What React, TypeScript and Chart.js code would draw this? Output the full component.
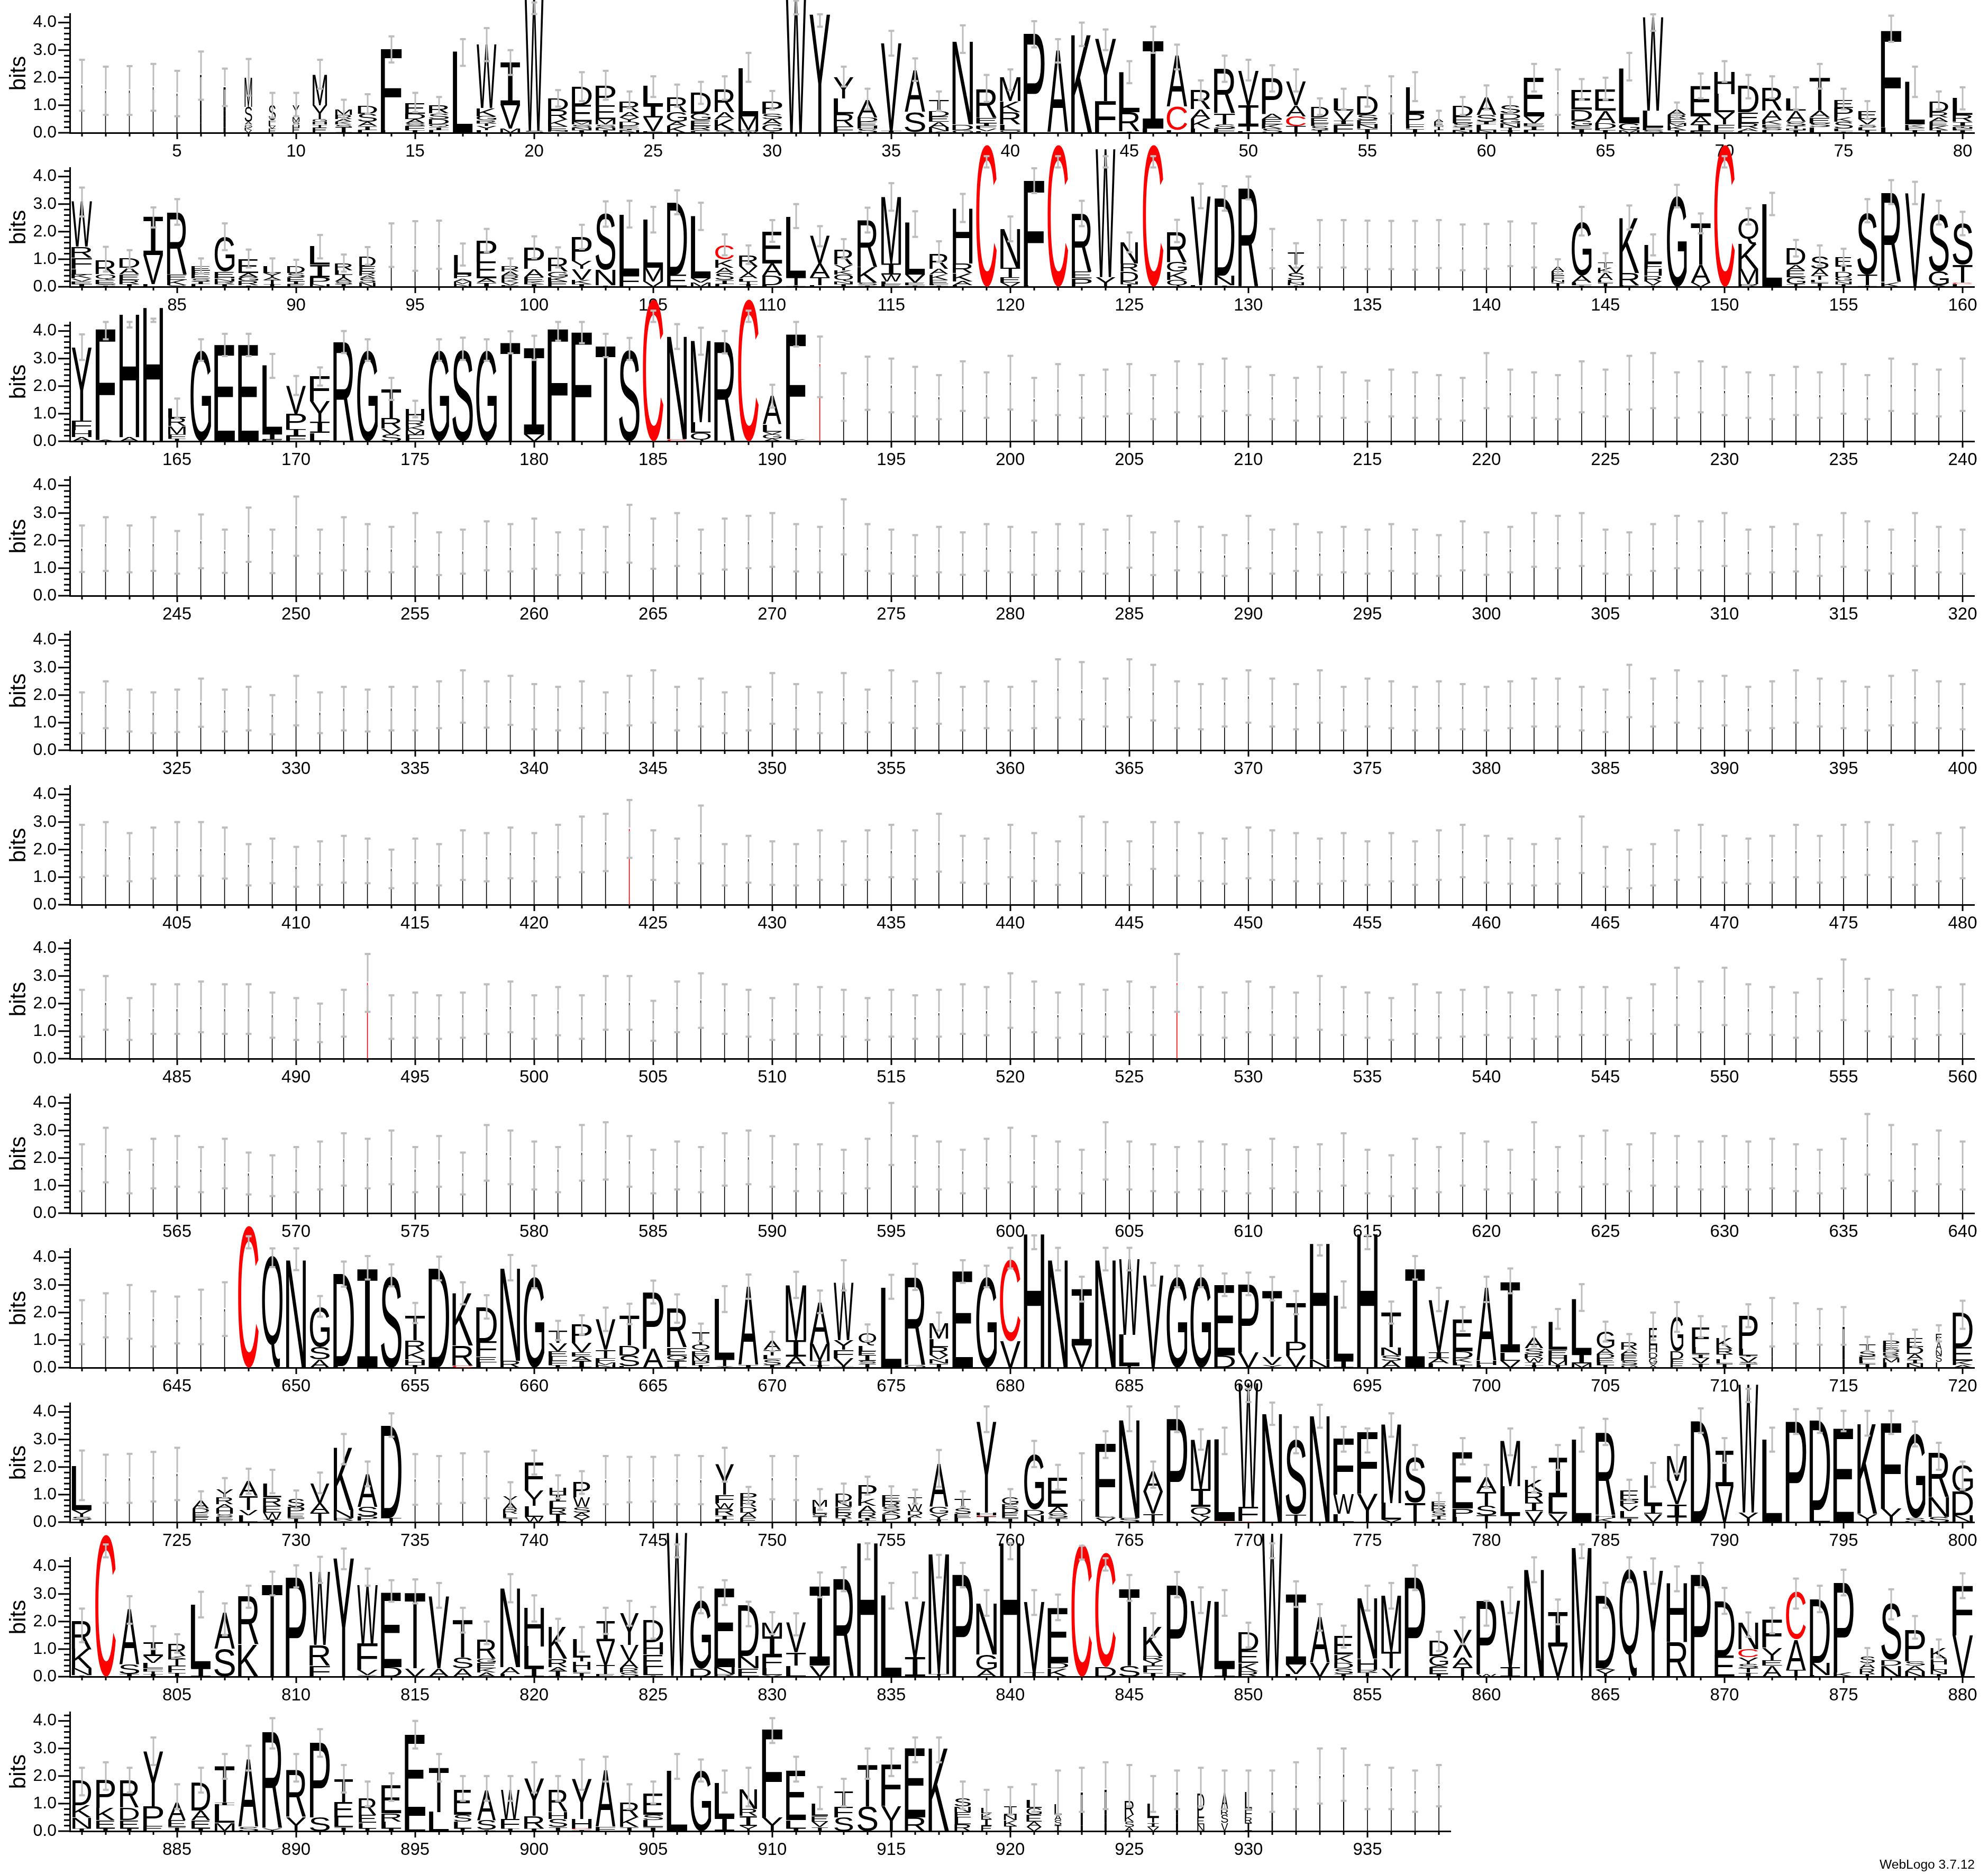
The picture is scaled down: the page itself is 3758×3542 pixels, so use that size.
import React, { useEffect, useRef } from "react";
import { Chart, registerables } from "chart.js";

Chart.register(...registerables);

// Each column: "low high weight stack" (bits x 100, weight in %, stack bottom to top)
const row1Columns = ["80 265 4 L172","65 240 4 L152","65 242 4 L153","80 250 4 L165","60 225 4 L142","120 295 10 R35 A30 I145","97 233 15 W20 R20 P20 G20 M85","135 268 32 V10 K10 G10 A10 S55 M105","55 145 30 E15 V10 L10 F10 S55","60 145 30 E20 H10 S10 M15 A10 Y35","160 265 62 E20 T10 H10 G10 Y50 M110","55 120 72 I20 S10 K10 A10 R15 M20","70 140 82 L10 I15 A15 S30 D30","255 350 90 L10 F295","75 145 85 I10 F15 S10 A15 D20 E40","70 130 85 L10 I10 Q10 D20 S20 R30","243 340 85 L295","260 380 85 L10 Y15 T10 R10 G15 K30 W230","210 300 85 M15 V85 I155","431 473 82 S7 W490","95 155 85 I3 N5 E15 K25 R35 D42","115 220 85 I10 N10 S10 M10 E60 D65","120 225 85 I10 N10 S10 M20 E50 P70","90 150 85 N10 I5 E10 D15 Y15 A20 R40","130 205 85 F5 V50 I45 L70","95 175 85 K25 A15 G35 R55","105 185 85 L5 S5 R15 E20 G25 D75","120 205 85 S10 K40 A25 R85","185 290 85 W5 N5 M50 L175","85 152 85 I5 G25 A20 S20 P45","430 480 88 W500","385 430 88 Y430","168 240 85 F22 R48 L55 Y75","85 160 85 S15 H10 E15 D15 A65","280 370 88 I8 V317","188 270 88 L3 S72 A152","80 150 85 K5 N15 A20 E20 D20 T40","290 390 88 G10 D20 N300","112 210 88 L5 V10 F10 I10 E20 R105","155 230 88 Q10 L20 R45 K40 M85","310 405 90 L2 P358","255 340 90 L2 A298","315 400 90 K355","300 375 90 F115 Y225","180 260 88 I5 R70 L145","290 385 90 L15 I320","230 320 88 L10 C85 A185","120 190 85 L15 K35 A35 R70","185 280 90 F15 S15 T40 R160","190 265 88 L5 T20 I75 V125","150 245 88 S15 K15 E20 A20 P130","150 230 85 T25 C35 A40 V85","65 125 75 I10 S15 F10 E20 D40","85 160 85 F30 I15 V35 L45","95 170 88 I15 N15 E15 S20 D65","70 205 10 S30 R20 K20 A67","115 220 78 I15 F15 P40 L95","25 80 40 L10 I15 E15 A10","65 130 85 N10 I10 S15 E25 D40","85 172 85 N10 L20 I10 S25 A65","75 130 85 I10 T10 N15 G15 D20 S30","150 250 88 L10 I15 E10 V25 E140","65 230 4 L148","120 195 88 I15 E10 G20 D40 E70","120 200 88 I10 L5 D20 A45 E75","190 290 88 M10 G25 L200","370 430 88 S10 E10 L60 W340","55 110 80 I10 K15 M10 E15 R15 A20","125 215 88 F5 I25 A30 E110","185 260 88 E10 F20 Y45 L65 H80","125 210 88 L5 A10 R20 E40 D95","125 205 85 L10 S10 E10 K15 A35 R85","85 165 85 I10 N5 T10 S15 A40 L45","160 250 88 L20 S15 E20 A25 T120","85 160 80 I5 L10 S25 K15 P35 E30","50 115 78 I10 L10 S10 V20 E30","330 425 88 L20 F350","130 240 85 I10 F10 K10 L155","85 150 80 I10 K15 E15 A15 R20 D40","85 165 85 I10 F5 N5 Y5 I15 R25 L60"];

const row2Columns = ["255 360 88 I10 E10 V10 K15 L20 F40 R40 W165","55 145 85 I5 S5 E15 Q20 R50","67 133 85 I10 R15 E20 A25 D35","215 288 85 L10 V105 I140","225 318 85 S5 K20 E20 R225","48 103 80 L10 I10 S10 E15 F15 E15","133 230 85 I10 R10 N10 H5 E20 G125","70 135 85 I5 R15 G15 A15 E50","50 103 75 I10 T15 A10 Y15 L25","43 98 75 E10 I10 E15 S15 D25","103 188 85 N10 P25 I45 L65","55 117 75 I10 S10 A15 T10 L15 R25","80 144 70 N15 S15 A10 R15 E20 D35","72 230 4 L150","58 238 4 L148","65 240 4 L152","77 157 75 N10 M10 A10 P15 L70","126 210 85 I15 A15 E60 P77","45 103 75 F5 V10 K10 R15 A15 R20","103 183 85 I10 K10 E15 A30 P75","70 143 85 E20 K15 G20 R50","137 225 85 I10 K15 V40 Y30 P85","218 310 85 I5 N55 S205","215 312 85 F42 L218","197 290 85 V20 M50 L175","263 350 85 E45 D260","206 305 85 M15 V15 L225","114 190 80 L10 I15 S25 A20 K30 C50","83 150 80 I10 T10 L10 A20 V25 R40","163 242 85 L5 D35 A45 E115","213 300 85 I5 T30 L220","147 220 85 L5 T30 A50 V100","103 173 80 I10 N10 Q25 K15 Y20 R55","197 287 85 I5 S10 K55 R170","276 376 85 E10 L10 W25 I40 M240","181 274 85 I5 E10 V30 L190","90 165 80 I5 L5 E15 K20 A20 R55","235 337 85 L5 A15 K30 R35 H200","433 474 88 C515","165 255 85 V15 E20 T35 N140","340 430 88 L5 F380","433 474 88 C515","220 312 85 P30 E25 R210","433 474 85 Y35 W465","125 197 75 I10 N10 D35 R30 N75","433 474 88 C515","162 243 85 Q25 K30 G35 R110","285 374 85 L5 V322","276 365 85 I5 N35 D280","317 400 85 R357","67 210 4 L138","69 158 70 I5 N10 L10 S25 V30 T45","70 242 4 L156","70 242 4 L156","64 240 4 L152","64 239 4 L151","62 239 4 L150","68 242 4 L155","60 226 4 L143","65 228 4 L146","75 237 4 L156","70 230 4 L150","45 100 55 I15 N10 F15 E15 A17","186 290 85 I5 L10 A25 G195","55 122 65 I15 L10 A25 K20 T20","208 295 85 F5 R45 K200","114 190 75 I5 V15 R20 H25 F20 L65","288 370 85 G330","194 266 85 V15 A65 T150","433 474 88 C515","226 285 85 R10 M55 K90 Q95","260 341 85 L300","110 170 80 T10 G25 E25 A20 D58","77 150 75 I15 L10 T15 A25 S45","77 138 70 I10 N10 G15 D20 T20 E32","234 318 85 I5 T40 S225","300 387 85 K15 R325","300 381 85 V340","226 312 85 A5 G50 S210","187 272 85 L10 C5 T65 S150"];

const row3Columns = ["295 388 85 A15 H25 F35 Y265","370 433 85 A5 F402","413 433 85 A15 H445","433 445 85 H485","83 155 75 I10 F15 M30 R30 L35","292 370 88 G330","309 390 88 E350","309 390 88 E350","230 317 85 F5 I20 L250","168 237 85 F20 I25 P55 V100","202 268 85 L30 I40 Y75 F90","320 400 88 R360","292 370 88 G330","150 230 85 S25 V20 R40 T105","87 147 80 F25 M15 K15 R20 H42","292 370 88 G330","295 376 88 S335","292 370 88 G330","319 399 85 T360","295 383 88 V25 I315","365 433 88 L3 F404","356 433 88 F395","305 390 85 T347","295 375 88 S335","433 474 88 C515","335 425 85 C8 N372","314 412 85 Q30 L40 M295","319 400 88 R360","433 474 88 C515","122 205 80 A10 G15 V10 L25 A105","344 433 85 Y8 F380","160 380 3 C280","74 247 4 L160","114 307 4 L210","105 300 4 L202"];
const row3TailHigh = [270,240,290,250,310,230,280,240,260,280,240,290,280,300,270,240,230,270,250,220,260,250,240,230,320,260,250,240,290,260,310,320,250,290,270,250,240,270,250,280,240,300,280,260,300];
const row3TailLow = [90,80,110,85,115,75,95,85,90,100,80,105,90,110,95,80,75,90,85,70,90,85,80,75,120,90,85,80,105,90,115,120,85,105,95,85,80,95,85,100,80,110,100,90,110];

const row4High = [255,285,255,285,235,295,240,320,240,360,240,285,260,250,300,230,240,270,260,280,230,240,250,330,280,300,240,280,290,300,260,250,350,260,240,220,250,230,260,250,230,260,260,240,290,230,270,250,220,290,240,260,230,250,240,260,240,220,270,230,250,300,290,300,240,230,260,290,270,300,240,250,260,220,300,270,240,300,250,240];
const row4Low = [86,90,85,90,80,100,83,123,82,145,80,92,88,85,105,75,80,92,88,98,75,82,85,120,98,108,80,95,100,105,88,85,150,90,80,72,85,76,90,85,76,90,88,80,102,75,92,85,72,100,80,90,76,85,80,90,80,72,92,76,85,105,100,108,80,76,90,100,92,108,80,85,88,72,105,92,80,108,85,80];
const row5High = [210,250,220,210,220,260,220,230,200,270,210,230,220,230,230,250,290,250,270,240,230,250,210,270,290,230,260,210,230,280,240,210,280,220,290,250,280,230,250,230,250,330,320,260,330,310,250,240,260,290,260,240,290,230,260,250,230,250,240,230,250,260,260,230,220,310,260,290,250,270,230,250,290,260,250,230,270,290,250,240];
const row5Low = [62,80,68,62,66,85,68,72,58,90,62,72,68,72,72,80,100,82,92,76,72,80,62,90,100,72,86,62,72,96,76,62,98,66,100,80,96,72,80,72,80,118,112,86,120,108,80,76,86,100,86,76,100,72,86,80,72,80,76,72,80,86,86,72,66,120,86,100,80,90,72,80,100,86,80,72,90,100,80,76];
const row6High = [290,300,260,280,300,300,280,220,240,210,230,250,240,200,240,220,270,260,280,260,290,320,330,380,270,240,360,220,250,230,220,270,230,270,290,270,330,250,240,290,260,230,320,300,230,300,300,260,240,280,270,260,240,260,230,260,230,270,290,250,240,220,240,320,210,200,220,270,290,250,240,250,290,250,290,300,290,230,260,280];
const row6Low = [100,105,85,95,105,105,95,70,78,65,72,80,78,60,78,70,90,85,96,85,100,118,122,170,90,78,150,70,80,72,70,90,72,90,100,92,120,80,76,100,86,72,115,105,72,130,105,86,76,96,90,85,76,86,72,85,72,90,100,80,76,70,76,115,65,60,70,90,100,80,76,80,100,80,100,108,100,72,85,96];
const row7High = [250,300,220,270,270,280,270,270,240,220,200,250,380,230,240,230,240,270,280,230,260,230,300,300,210,280,310,270,250,220,270,260,250,220,250,230,250,270,260,310,280,240,270,250,280,260,380,260,240,280,260,240,300,260,240,220,270,240,250,260,240,230,250,260,260,220,270,330,280,330,270,260,240,290,360,290,250,230,260,270];
const row7Low = [80,105,68,90,90,96,90,90,76,68,60,80,170,72,76,72,76,90,96,72,85,72,105,105,65,96,112,90,80,68,90,86,80,68,80,72,80,90,85,112,96,76,90,80,96,86,170,86,76,96,86,76,105,86,76,68,90,76,80,86,76,72,80,86,86,68,90,122,96,122,90,86,76,100,140,100,80,72,86,90];
const row8High = [250,310,230,270,280,240,270,220,210,240,260,290,270,300,240,280,220,320,300,260,240,320,330,280,230,260,240,290,300,280,250,250,230,270,400,280,260,230,270,310,280,260,230,330,260,250,240,260,250,230,270,240,250,290,230,210,270,240,290,260,230,330,240,280,300,250,290,280,260,280,260,270,250,230,270,360,320,250,300,260];
const row8Low = [80,112,72,90,96,76,90,68,62,76,86,100,90,105,76,96,68,118,105,86,76,118,122,96,72,86,76,100,105,96,80,80,72,90,175,96,86,72,90,112,96,86,72,122,86,80,76,86,80,72,90,76,80,100,72,62,90,76,100,86,72,122,76,96,105,80,100,96,86,96,86,90,80,72,90,140,118,80,105,86];

const row9Columns = ["85 245 4 L165","110 270 4 L190","105 300 4 L202","77 277 4 L177","88 258 4 L173","85 283 5 L184","115 310 5 L212","433 477 88 C515","365 433 88 Q405","354 433 85 N390","185 260 85 A30 S45 G145","294 385 88 L5 D335","320 405 88 I360","295 375 88 S335","162 235 85 I10 H20 K30 R40 T90","317 403 88 D360","230 310 88 C8 R72 K190","178 263 88 L20 E20 F55 D125","317 409 85 R25 N335","288 370 88 G330","100 170 80 I10 F15 L15 E20 V30 T45","120 190 85 I25 A15 E15 V35 P65","133 218 85 N10 M10 F15 T30 V110","158 232 85 L5 S40 D35 T110","233 316 88 A70 P205","163 266 85 I25 Q20 E28 R140","96 160 75 I10 P15 M20 E15 Q25 T45","202 296 85 X5 T25 L220","250 338 85 I10 A285","60 130 75 I10 S20 L15 T20 A32","253 348 88 L5 A35 I60 M200","198 280 85 I10 T15 M60 A150","280 390 85 T5 V30 F30 Y35 W208","96 157 75 I15 S10 I20 E15 L20 Q45","250 337 88 L290","282 377 88 G10 R320","135 200 80 I15 N15 V15 R30 L30 M55","308 390 88 E350","292 370 88 G330","360 435 88 V95 C295","430 480 88 H485","353 435 85 N390","240 330 88 V80 I205","353 435 88 N390","353 435 88 T5 L115 W275","298 380 88 V335","292 370 88 G330","292 370 88 G330","260 342 88 D45 E255","263 345 88 V55 P245","244 329 85 Y10 V30 T240","194 278 85 V45 P50 T140","407 445 85 N30 H420","218 313 85 I25 L235","430 480 88 H485","160 240 85 A25 S20 N30 T125","320 405 85 I360","205 290 88 L15 A20 I20 V190","133 220 85 I10 L10 K15 D25 E115","238 330 85 L10 H15 A265","270 360 85 V25 L30 I255","77 147 80 I10 T10 W15 R15 S20 A40","141 213 80 I10 M15 H20 E20 L100","206 303 85 M15 I35 L200","95 167 75 I10 L10 E15 D15 A20 G60","63 122 70 G10 S15 E20 F5 A15 R28","100 200 35 X15 G20 D20 H25 E63","130 238 55 E15 F15 D30 G125","110 187 75 I15 V20 I15 L25 F70","83 150 70 I15 L15 T20 R20 K40","147 230 80 I15 S5 V20 I5 L25 P120","77 253 8 V20 L20 I125","87 234 6 L160","83 213 6 L148","83 220 15 K30 R35 A20 L63","60 112 70 I15 L10 F15 S20 T25","67 123 70 L20 M15 S10 R10 D10 E15 P17","77 138 70 N15 I15 A20 D25 E32","95 154 25 L20 S25 N20 A30 E30","141 243 85 A10 K15 E50 D125"];

const row10Columns = ["80 260 85 I10 S10 Y25 L160","70 245 4 L157","70 248 4 L159","75 255 4 L165","80 270 4 L175","55 112 70 E20 E15 D15 A30","87 160 72 F10 E10 S10 H20 A15 R25 Y30","103 194 80 L25 V20 T50 A55","105 190 78 I10 W25 E25 R30 L50","50 115 72 I15 E15 P25 S30","105 180 82 T35 A35 V70","210 320 85 Y5 R10 N30 K225","130 220 85 I5 P15 S35 A120","310 395 88 T15 D335","63 247 4 L155","67 240 4 L153","70 250 4 L160","87 256 4 L171","50 145 62 I15 L15 R15 A25 Y25","173 260 80 W20 L40 Y55 F100","87 170 72 I30 R20 L25 I25 H25","103 185 72 Y20 A15 S20 W35 P55","65 240 4 L152","72 237 4 L155","75 237 4 L156","65 243 4 L154","65 240 4 L152","147 270 80 L10 I15 R25 W20 F30 Y110","67 128 70 E15 A20 D20 R25 P25","83 240 4 L160","80 240 4 L160","45 120 62 I20 Q10 L25 M25","70 140 70 I15 R20 E20 N20 D30","100 165 78 L5 I10 R20 A25 K25 P50","60 130 78 L10 D20 A10 S15 R20 E22","67 118 62 L15 A10 D15 W25 T25","128 262 80 I10 Y20 G25 A155","55 112 70 L15 E15 S20 T35","327 420 85 I20 C5 H10 Y330","58 120 70 I15 E20 D15 E15 G25","200 295 85 N25 D20 G200","118 208 85 I15 S15 A25 E105","80 250 5 L165","233 330 88 V15 S5 F265","330 420 88 S15 N355","125 220 85 T30 V80 A73","327 420 88 P375","263 337 85 V20 Q35 I65 M180","247 343 88 C3 L297","436 484 85 C3 F52 W450","353 434 85 N393","250 345 88 T28 S272","343 426 85 N385","256 346 88 L30 W70 F205","253 340 88 Y103 F224","310 395 85 V10 L60 M285","190 280 88 T70 S165","40 106 62 L10 I15 S15 R20 E15","210 305 88 L20 P30 E203","125 208 85 T25 S35 T50 A55","243 340 85 T25 L105 M165","109 200 78 V40 I30 R40 K45","190 280 80 V30 L60 I145","256 343 85 L300","280 375 85 K15 H10 R300","80 154 78 I15 L25 V20 P20 E35","128 215 78 V30 I30 L110","176 280 85 T20 I45 V85 M90","324 413 85 D367","215 305 78 V130 I130","436 484 85 Y35 W465","256 343 85 L300","320 410 88 P365","324 413 88 L45 D325","330 404 88 E340","314 404 85 Y30 K325","320 404 88 Y50 F310","275 365 88 S15 G305","190 288 88 S20 N70 R160","118 220 88 N25 D85 G95"];

const row11Columns = ["125 247 85 I5 N25 K70 R105","433 480 88 C515","192 292 85 I10 S35 A200","100 183 85 I10 T10 F10 L20 V25 I50","87 154 75 I15 F25 T25 K10 R45","215 308 85 I30 L230","150 266 88 S100 A130","250 330 88 K115 R175","295 381 88 T335","324 404 88 P360","340 435 88 F40 R75 W265","390 465 88 Y430","330 392 88 Y5 V20 F95 W215","272 350 88 D35 E270","266 353 88 V30 T275","250 340 88 A30 V260","160 250 85 A30 S40 T135","118 200 80 A15 K15 E20 G15 R70","270 372 85 L10 A25 N285","200 295 85 I30 L80 H140","130 210 80 I20 A15 R30 K115","90 180 75 I15 L10 H30 T15 L65","155 250 80 E10 T32 V86 I72","185 275 80 S15 R15 A30 V55 Y115","138 253 85 I5 L30 E45 H45 D80","433 480 88 A3 W520","230 324 88 D30 G247","260 350 88 R10 N25 E285","183 272 88 E30 N45 D185","154 234 85 V5 L25 F45 I70 M50","150 230 85 L40 T48 V107","288 378 88 V40 I290","310 397 88 R355","426 484 88 H485","247 340 88 L295","285 378 88 I70 V205","360 442 88 T10 M435","324 413 88 P370","221 314 88 A25 G55 N185","426 484 88 H485","224 314 88 T15 V255","205 298 88 K30 D20 E200","425 475 88 C480","385 430 88 D35 C415","275 369 88 S40 T280","144 230 85 I15 F25 Y20 R15 K105","288 380 88 R15 P315","231 324 88 V275","221 314 88 I30 L240","106 196 85 R20 K30 E45 D65","430 484 88 W520","253 346 88 L10 V35 I255","167 263 85 V50 A165","105 185 80 I10 S20 D20 K30 E65","240 330 85 T15 R10 H40 N220","247 340 85 V30 T60 M205","314 404 88 P360","93 163 80 I10 E25 A5 G35 D55","118 215 85 T35 A35 X100","185 275 85 W10 P265","231 324 85 I35 V240","343 433 85 N388","190 280 85 V110 I125","430 480 85 M468","250 341 85 Y25 A5 D262","343 433 85 Q390","337 429 85 Y385","310 400 88 R125 H215","324 413 85 P370","228 322 85 E75 D200","144 233 85 I15 T15 S15 Y25 C30 N95","157 250 85 A40 E20 Y45 F100","247 356 85 T25 A110 C172","234 330 85 L5 N45 D230","295 388 85 K15 P325","45 104 65 I10 R20 A20 S22","208 317 85 N40 D20 S205","138 220 85 N20 A20 S15 P112","70 135 70 I10 N15 L20 H20 K38","285 375 88 V150 F180"];

const row12Columns = ["130 230 80 I10 N40 K45 D90","150 250 80 I10 E30 K45 P100","140 230 80 I10 E30 D45 R100","240 340 85 E20 P70 Y200","80 170 75 I15 E25 A65","140 230 80 I10 E30 A35 D100","190 280 85 M30 L65 I10 T130","220 310 85 S15 A245","300 410 85 Y10 R350","180 280 85 Y50 R170","270 370 85 S50 P270","140 240 80 I15 L35 E55 T85","90 180 75 I10 L20 E30 R60","110 210 85 I10 L25 R30 E100","300 400 88 L55 E295","180 280 85 L70 T160","110 200 75 I10 L25 S25 E90","110 200 80 I5 S35 A110","110 200 80 I10 F35 W105","140 250 85 I10 R45 Y135","110 200 80 I15 S30 H25 R80","150 260 85 I5 C5 H35 Y145","180 270 85 F15 A205","80 170 80 I15 K35 R55","100 180 85 I15 L25 S20 E75","190 280 88 L220","180 260 88 G220","140 220 85 I50 L125","90 230 75 Y20 I35 R25 N70","320 410 88 Y50 F320","180 270 85 I10 L30 E180","80 160 70 I15 V20 E20 L45","90 190 80 S50 F40 T55","190 300 85 S90 T150","200 300 85 Y90 F150","250 340 88 R50 E250","250 340 88 K300","80 180 70 R25 L25 E20 N20 S30","50 150 45 E20 I25 K20 L20","60 160 55 T20 K20 N20 I30","70 170 65 V15 A20 E25 G25 L30","60 220 30 I20 S20 A20 L40","70 230 15 D20 V30 L90","80 250 15 E30 R30 L90","90 240 40 A15 S20 K25 R50","70 200 50 V15 I15 T20 L50","80 220 15 F30 K30 A80","90 230 30 N25 E25 L25 D60","80 220 30 V30 S30 R20 A60","80 220 30 I30 R20 F30 L60","70 220 10 T40 R40 A60","80 250 8 L165","100 300 8 L200","110 300 8 L205","80 240 6 L160","80 230 6 L155","70 220 6 L145","90 240 6 L165"];

// Gappy columns whose sliver of stacked letters is red (mostly cysteine)
const redThinPositions = [424, 493, 527];
const thinWeight = 4;

const yTickValues = [0, 0.2, 0.4, 0.6, 0.8, 1, 1.2, 1.4, 1.6, 1.8, 2, 2.2, 2.4, 2.6, 2.8, 3, 3.2, 3.4, 3.6, 3.8, 4, 4.2];
const creditText = "WebLogo 3.7.12";

type Col = { pos: number; lo: number; hi: number; w: number; total: number; stack: { ch: string; h: number }[] };

const parseRich = (first: number, cols: string[]): Col[] =>
  cols.map((s, i) => {
    const [lo, hi, w, ...rest] = s.split(" ");
    const stack = rest.map((t) => ({ ch: t[0], h: Number(t.slice(1)) / 100 }));
    return { pos: first + i, lo: +lo / 100, hi: +hi / 100, w: +w, stack, total: stack.reduce((a, b) => a + b.h, 0) };
  });

const parseThin = (first: number, highs: number[], lows: number[]): Col[] =>
  highs.map((h, i) => {
    const pos = first + i;
    const total = (h + lows[i]) / 200;
    return { pos, lo: lows[i] / 100, hi: h / 100, w: thinWeight, total, stack: [{ ch: redThinPositions.includes(pos) ? "C" : "L", h: total }] };
  });

const rows: { first: number; last: number; cols: Col[] }[] = [
  { first: 1, last: 80, cols: parseRich(1, row1Columns) },
  { first: 81, last: 160, cols: parseRich(81, row2Columns) },
  { first: 161, last: 240, cols: [...parseRich(161, row3Columns), ...parseThin(196, row3TailHigh, row3TailLow)] },
  { first: 241, last: 320, cols: parseThin(241, row4High, row4Low) },
  { first: 321, last: 400, cols: parseThin(321, row5High, row5Low) },
  { first: 401, last: 480, cols: parseThin(401, row6High, row6Low) },
  { first: 481, last: 560, cols: parseThin(481, row7High, row7Low) },
  { first: 561, last: 640, cols: parseThin(561, row8High, row8Low) },
  { first: 641, last: 720, cols: parseRich(641, row9Columns) },
  { first: 721, last: 800, cols: parseRich(721, row10Columns) },
  { first: 801, last: 880, cols: parseRich(801, row11Columns) },
  { first: 881, last: 938, cols: parseRich(881, row12Columns) },
];

const FONT = '"Liberation Sans", Arial, sans-serif';
const W = 3758;
const H = 3542;
const ROW_PITCH = 291.82;
const FIRST_BASELINE = 250.5;
const ABOVE = 290;
const BELOW = 75;
const PX_PER_POS = 45;
const LEFT = 132;

const glyphCache: Record<string, { l: number; r: number; a: number; d: number }> = {};
const glyphFont = (ch: string) => (ch === "I" ? '200px "Liberation Mono"' : '200px "Liberation Sans"');

function drawLetter(ctx: CanvasRenderingContext2D, ch: string, cx: number, inkW: number, yBottom: number, yTop: number) {
  const color = ch === "C" ? "#ff0000" : "#000000";
  const hPx = yBottom - yTop;
  if (hPx <= 0) return;
  ctx.fillStyle = color;
  if (inkW < 7) {
    const sw = Math.max(1.6, inkW * 0.6);
    ctx.fillRect(cx - sw / 2, yTop, sw, hPx);
    return;
  }
  ctx.font = glyphFont(ch);
  let g = glyphCache[ch];
  if (!g) {
    const m = ctx.measureText(ch);
    g = { l: -m.actualBoundingBoxLeft, r: m.actualBoundingBoxRight, a: m.actualBoundingBoxAscent, d: m.actualBoundingBoxDescent };
    glyphCache[ch] = g;
  }
  ctx.save();
  ctx.translate(cx - inkW / 2, yBottom);
  ctx.scale(inkW / (g.r - g.l), hPx / (g.a + g.d));
  ctx.textBaseline = "alphabetic";
  ctx.textAlign = "left";
  ctx.fillText(ch, -g.l, -g.d);
  ctx.restore();
}

const logoPlugin = {
  id: "logo",
  afterDatasetsDraw(chart: any) {
    const { ctx, scales } = chart;
    const x = scales.x;
    const y = scales.y;
    const cols: Col[] = chart.options.plugins.logo.cols;
    ctx.save();
    for (const c of cols) {
      const cx = x.getPixelForValue(c.pos);
      const inkW = (44 * c.w) / 100;
      let acc = 0;
      for (const s of c.stack) {
        const yb = y.getPixelForValue(acc);
        acc += s.h;
        drawLetter(ctx, s.ch, cx, inkW, yb, y.getPixelForValue(acc));
      }
    }
    ctx.fillStyle = "#bdbdbd";
    for (const c of cols) {
      const cx = Math.round(x.getPixelForValue(c.pos));
      const yHi = y.getPixelForValue(c.hi);
      const yLo = y.getPixelForValue(c.lo);
      if (c.w < 30 && c.total > c.lo && c.total < c.hi) {
        const gapTop = y.getPixelForValue(c.total + 0.05);
        const gapBot = y.getPixelForValue(c.total - 0.08);
        ctx.fillRect(cx - 1.5, yHi, 3, gapTop - yHi);
        ctx.fillRect(cx - 1.5, gapBot, 3, yLo - gapBot);
      } else {
        ctx.fillRect(cx - 1.5, yHi, 3, yLo - yHi);
      }
      ctx.fillRect(cx - 5.5, yHi - 2, 11, 4);
      ctx.fillRect(cx - 5.5, yLo - 2, 11, 4);
    }
    ctx.fillStyle = "#000";
    const y0 = y.getPixelForValue(0);
    const xl = chart.chartArea.left;
    for (const t of x.ticks) {
      const px = Math.round(x.getPixelForValue(t.value));
      ctx.fillRect(px - 1.5, y0, 3, t.value % 5 === 0 ? 12 : 7);
    }
    for (const t of y.ticks) {
      const py = y.getPixelForValue(t.value);
      const major = Number.isInteger(t.value);
      const len = major ? 22 : 11;
      ctx.fillRect(xl - len, py - 1.5, len, 3);
    }
    ctx.restore();
  },
};

function LogoRow({ index }: { index: number }) {
  const ref = useRef<HTMLCanvasElement>(null);
  const row = rows[index];
  useEffect(() => {
    const right = LEFT + (row.last - row.first + 1) * PX_PER_POS + 0.5;
    const positions: number[] = [];
    for (let p = row.first; p <= row.last; p++) positions.push(p);
    const chart = new Chart(ref.current as HTMLCanvasElement, {
      type: "scatter",
      data: {
        datasets: [
          {
            data: row.cols.map((c) => ({ x: c.pos, y: c.total })),
            pointRadius: 0,
            showLine: false,
          },
        ],
      },
      options: {
        animation: false,
        responsive: false,
        devicePixelRatio: 1,
        layout: { padding: { top: ABOVE - 225, right: W - right, left: 0, bottom: 0 } },
        plugins: { legend: { display: false }, tooltip: { enabled: false }, logo: { cols: row.cols } } as any,
        scales: {
          x: {
            type: "linear",
            min: row.first - 0.5,
            max: row.last + 0.5,
            afterBuildTicks: (s: any) => {
              s.ticks = positions.map((value) => ({ value }));
            },
            afterFit: (s: any) => {
              s.height = BELOW;
            },
            grid: { display: true, drawOnChartArea: false, tickLength: 11, tickColor: "transparent" },
            border: { display: true, color: "#000", width: 3 },
            ticks: {
              autoSkip: false,
              maxRotation: 0,
              padding: 5,
              color: "#000",
              font: { family: FONT, size: 33 },
              callback: (v: any) => (Number(v) % 5 === 0 ? String(v) : ""),
            },
          },
          y: {
            type: "linear",
            min: 0,
            max: 4.32,
            afterBuildTicks: (s: any) => {
              s.ticks = yTickValues.map((value) => ({ value }));
            },
            afterFit: (s: any) => {
              s.width = LEFT;
            },
            grid: { display: true, drawOnChartArea: false, tickLength: 22, tickColor: "transparent" },
            border: { display: true, color: "#000", width: 3 },
            title: { display: true, text: "bits", color: "#000", font: { family: FONT, size: 42 }, padding: { top: 11, bottom: 0 } },
            ticks: {
              autoSkip: false,
              padding: 3,
              color: "#000",
              font: { family: FONT, size: 32 },
              callback: (v: any) => (Number.isInteger(Number(v)) ? Number(v).toFixed(1) : ""),
            },
          },
        },
      } as any,
      plugins: [logoPlugin as any],
    });
    return () => chart.destroy();
  }, [row]);
  return (
    <canvas
      ref={ref}
      width={W}
      height={ABOVE + BELOW}
      style={{ position: "absolute", left: 0, top: FIRST_BASELINE + index * ROW_PITCH - ABOVE }}
    />
  );
}

export default function App() {
  return (
    <div style={{ position: "absolute", left: 0, top: 0, width: W, height: H, overflow: "hidden", background: "#fff" }}>
      {rows.map((_, i) => (
        <LogoRow key={i} index={i} />
      ))}
      <div
        style={{
          position: "absolute",
          right: W - 3733,
          top: 3510,
          font: `24.6px ${FONT}`,
          color: "#000",
          whiteSpace: "nowrap",
        }}
      >
        {creditText}
      </div>
    </div>
  );
}
